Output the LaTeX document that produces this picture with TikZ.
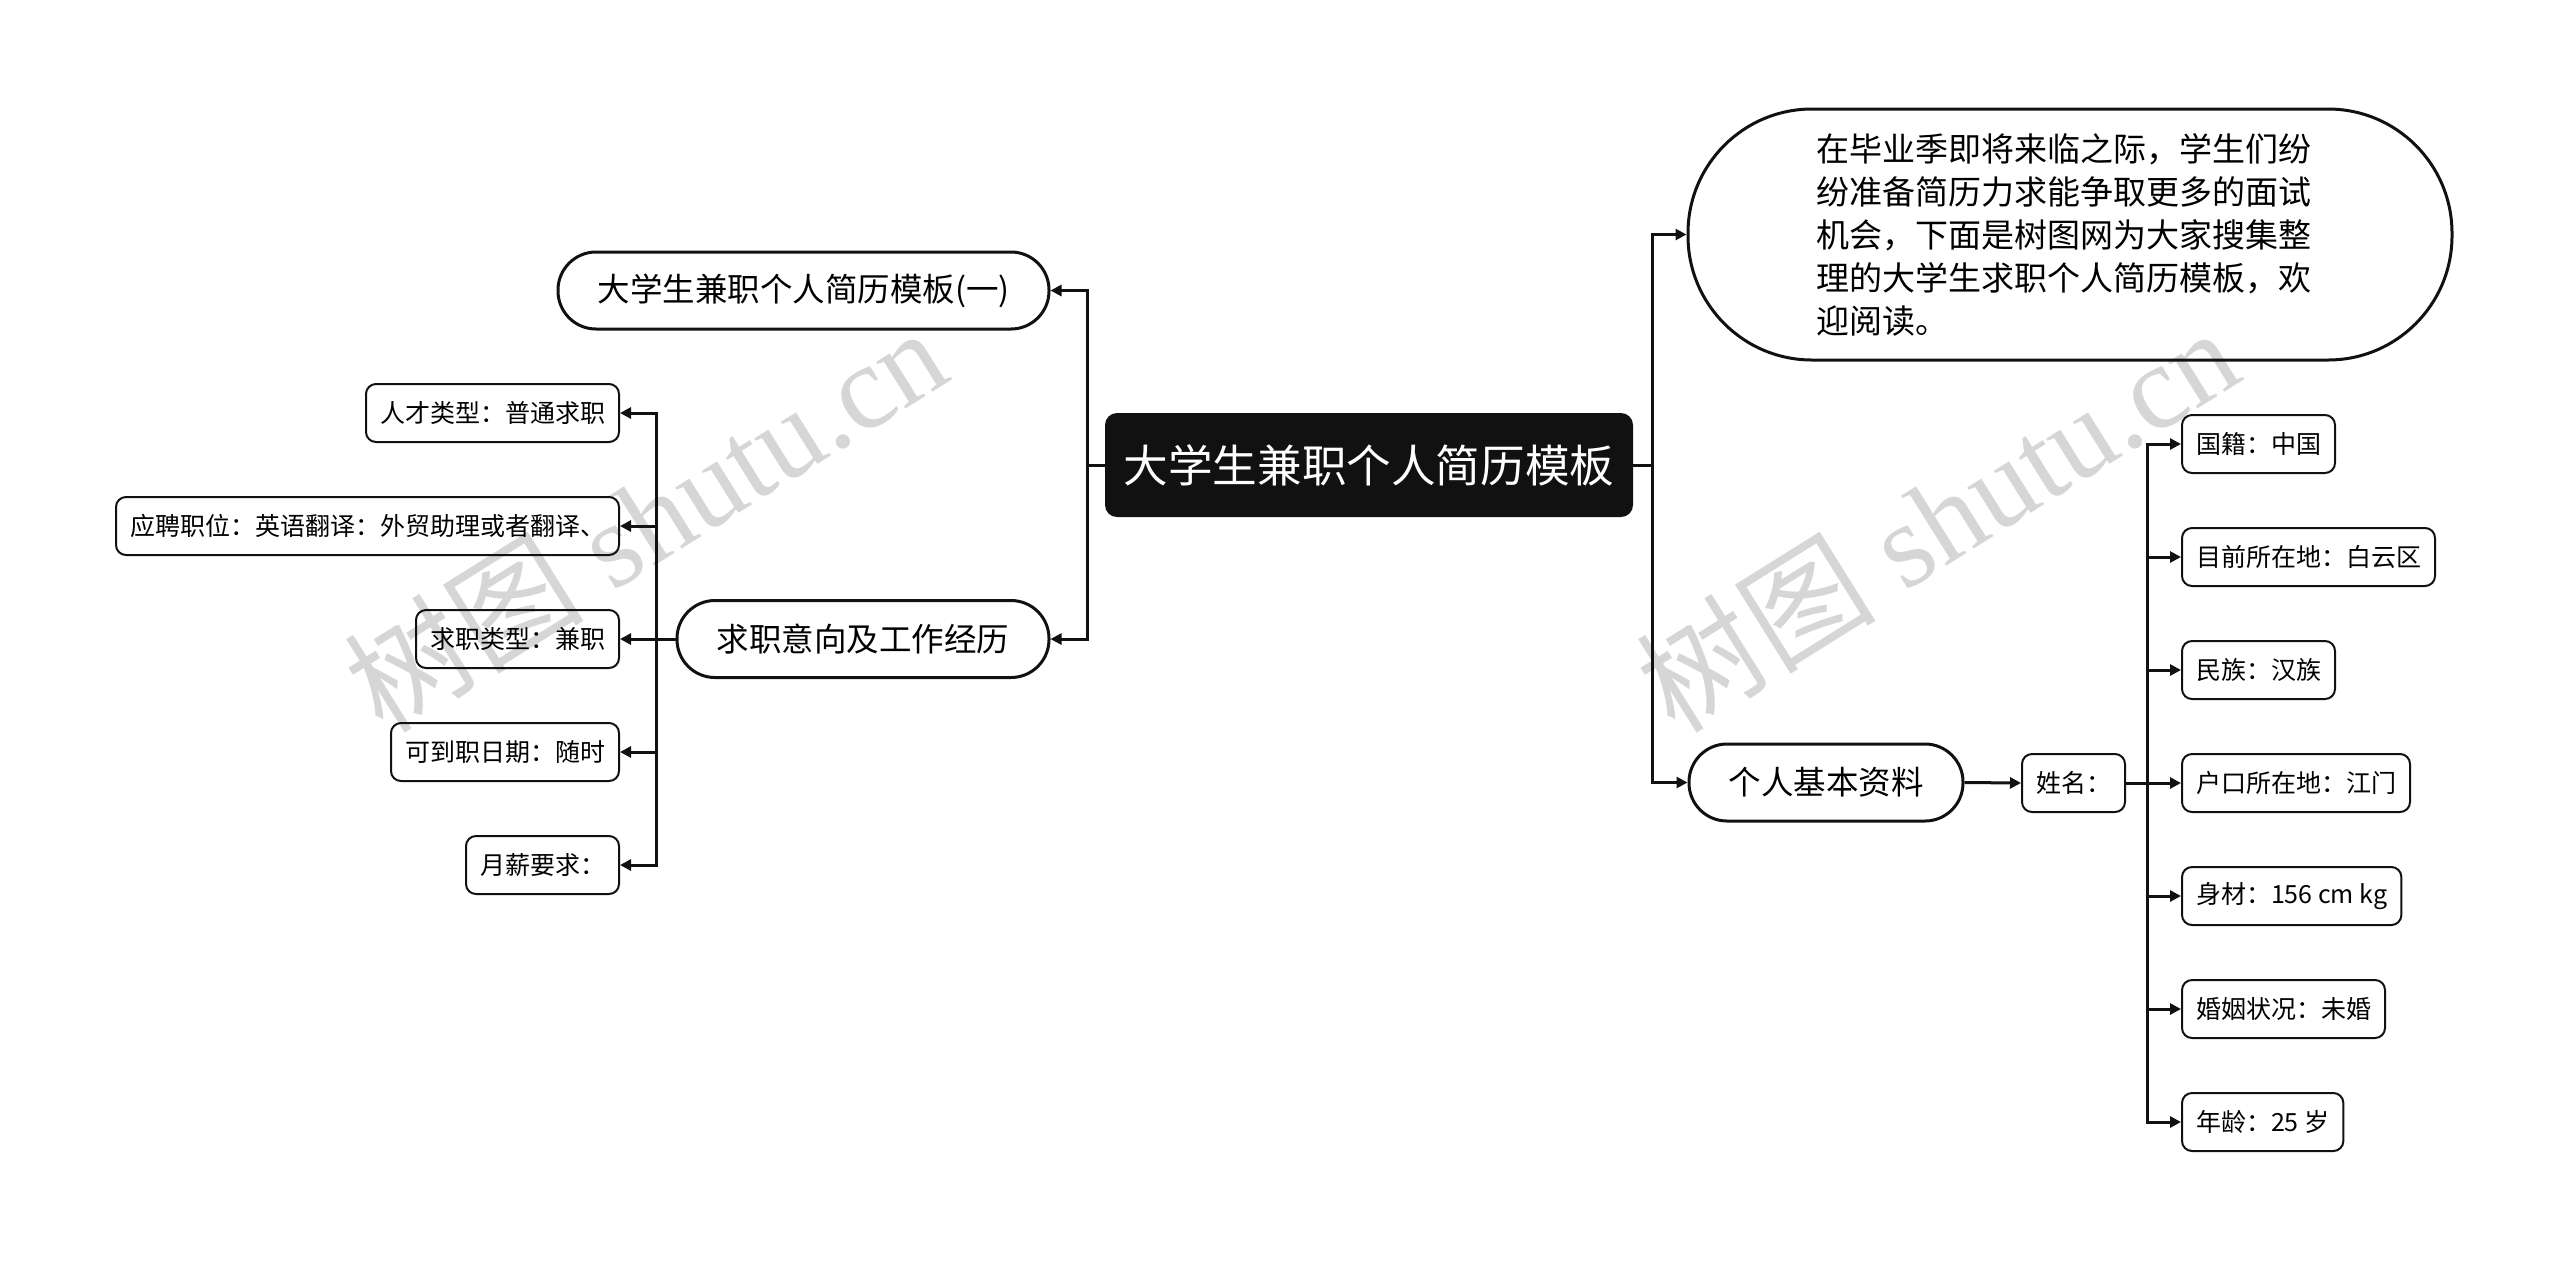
\documentclass[tikz,border=0pt]{standalone}
\usepackage{fontspec}
\setmainfont{Noto Sans CJK SC}
\newfontfamily\wmlatin{Liberation Serif}
\usetikzlibrary{arrows.meta}
\definecolor{ink}{HTML}{111111}
\definecolor{wmgray}{HTML}{D6D6D6}
\begin{document}
\begin{tikzpicture}[x=0.5pt,y=-0.5pt,
  rootbox/.style={fill=ink, text=white, rounded corners=6pt, minimum width=264pt,
    minimum height=52pt, inner sep=0pt, font=\fontsize{22.3pt}{26pt}\selectfont},
  midbox/.style={draw=ink, line width=1.5pt, rounded corners=19pt, minimum height=38.5pt,
    inner sep=0pt, font=\fontsize{16.25pt}{20pt}\selectfont},
  bigbox/.style={draw=ink, line width=1.5pt, rounded corners=62pt, minimum width=382pt,
    minimum height=125.5pt, inner sep=0pt, text width=254pt, align=left,
    font=\fontsize{16.5pt}{21.5pt}\selectfont},
  leafbox/.style={draw=ink, line width=1pt, rounded corners=5pt, minimum height=29pt,
    inner ysep=0pt, inner xsep=7pt, font=\fontsize{12.5pt}{15pt}\selectfont},
  link/.style={draw=ink, line width=1.5pt},
  arr/.style={link, -{Triangle[length=5.5pt,width=5.5pt]}},
  wm/.style={text=wmgray, rotate=32, inner sep=0pt, font=\fontsize{60pt}{68pt}\selectfont}
]
\useasboundingbox (0,0) rectangle (2560,1260);

% watermarks
\node[wm] (wm1) at (645,518) {树图\wmlatin\ shutu.cn};
\node[wm] (wm2) at (1937,518) {树图\wmlatin\ shutu.cn};

% root
\node[rootbox] (root) at (1369,465) {大学生兼职个人简历模板};

% left branch
\node[midbox, minimum width=245.5pt] (t1) at (803.5,290.5) {大学生兼职个人简历模板(一)};
\node[midbox, minimum width=186pt] (t2) at (863,639) {求职意向及工作经历};

\node[leafbox, anchor=east] (l1) at (620,413) {人才类型：普通求职};
\node[leafbox, anchor=east] (l2) at (620,526) {应聘职位：英语翻译：外贸助理或者翻译、};
\node[leafbox, anchor=east] (l3) at (620,639) {求职类型：兼职};
\node[leafbox, anchor=east] (l4) at (620,752) {可到职日期：随时};
\node[leafbox, anchor=east] (l5) at (620,865) {月薪要求：};

% right branch
\node[bigbox] (big) at (2070,234.5) {在毕业季即将来临之际，学生们纷\\纷准备简历力求能争取更多的面试\\机会，下面是树图网为大家搜集整\\理的大学生求职个人简历模板，欢\\迎阅读。};
\node[midbox, minimum width=137pt] (info) at (1826,782.5) {个人基本资料};
\node[leafbox, anchor=west] (name) at (2021,783) {姓名：};

\node[leafbox, anchor=west] (c1) at (2181,444) {国籍：中国};
\node[leafbox, anchor=west] (c2) at (2181,557) {目前所在地：白云区};
\node[leafbox, anchor=west] (c3) at (2181,670) {民族：汉族};
\node[leafbox, anchor=west] (c4) at (2181,783) {户口所在地：江门};
\node[leafbox, anchor=west] (c5) at (2181,896) {身材：156 cm kg};
\node[leafbox, anchor=west] (c6) at (2181,1009) {婚姻状况：未婚};
\node[leafbox, anchor=west] (c7) at (2181,1122) {年龄：25 岁};

% junction points
\coordinate (ltr) at (1087,465);
\coordinate (ltr2) at (656,639);
\coordinate (rtr) at (1652,465);
\coordinate (rtr2) at (2147,783);

% connectors
\draw[link] (root.west) -- (ltr);
\draw[arr] (ltr) |- (t1.east);
\draw[arr] (ltr) |- (t2.east);

\draw[link] (t2.west) -- (ltr2);
\foreach \n in {l1,l2,l3,l4,l5} \draw[arr] (ltr2) |- (\n.east);

\draw[link] (root.east) -- (rtr);
\draw[arr] (rtr) |- (big.west);
\draw[arr] (rtr) |- (info.west);
\draw[arr] (info.east) -- (name.west);

\draw[link] (name.east) -- (rtr2);
\foreach \n in {c1,c2,c3,c4,c5,c6,c7} \draw[arr] (rtr2) |- (\n.west);
\end{tikzpicture}
\end{document}
